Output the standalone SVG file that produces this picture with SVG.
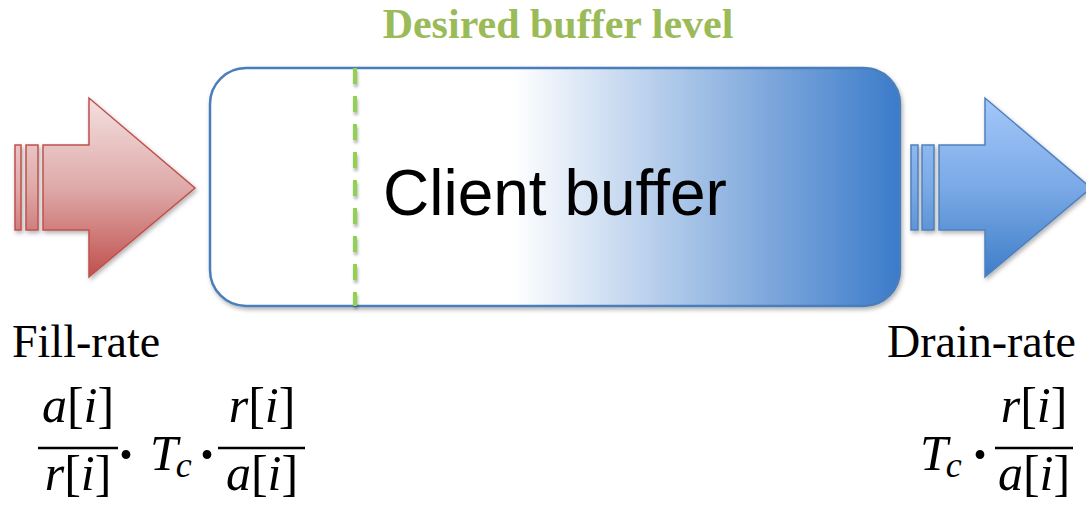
<svg xmlns="http://www.w3.org/2000/svg" width="1086" height="506" viewBox="0 0 1086 506">
  <style>
    .label { font-family: "Liberation Serif", "Times New Roman", serif; font-size: 46px; fill: #000; }
    .math { font-family: "Liberation Serif", "Times New Roman", serif; font-size: 50px; fill: #000; }
    .math .v { font-style: italic; }
    .dot { font-family: "Liberation Serif", "Times New Roman", serif; font-size: 54px; font-weight: bold; fill: #000; }
    .sub { font-family: "Liberation Serif", "Times New Roman", serif; font-size: 36px; font-style: italic; }
    .bar { stroke: #000; stroke-width: 2.5; }
    .title { font-family: "Liberation Serif", "Times New Roman", serif; font-size: 42px; font-weight: bold; fill: #9bbb59; }
    .boxtext { font-family: "Liberation Sans", Arial, sans-serif; font-size: 64px; fill: #000; }
  </style>
  <defs>
    <linearGradient id="bufferFill" x1="210" y1="0" x2="900" y2="0" gradientUnits="userSpaceOnUse">
      <stop offset="0" stop-color="#ffffff"/>
      <stop offset="0.44" stop-color="#ffffff"/>
      <stop offset="1" stop-color="#3b7bca"/>
    </linearGradient>
    <linearGradient id="redFill" x1="0" y1="98" x2="0" y2="277" gradientUnits="userSpaceOnUse">
      <stop offset="0" stop-color="#f4e0e0"/>
      <stop offset="0.5" stop-color="#deaaa9"/>
      <stop offset="1" stop-color="#c0504d"/>
    </linearGradient>
    <linearGradient id="blueFill" x1="0" y1="98" x2="0" y2="277" gradientUnits="userSpaceOnUse">
      <stop offset="0" stop-color="#a3c8fa"/>
      <stop offset="0.5" stop-color="#7aa9e6"/>
      <stop offset="1" stop-color="#3f7ec8"/>
    </linearGradient>
    <filter id="shadow" x="-10%" y="-10%" width="125%" height="130%">
      <feDropShadow dx="1.5" dy="2.5" stdDeviation="2" flood-color="#000" flood-opacity="0.3"/>
    </filter>
    <filter id="lineShadow" filterUnits="userSpaceOnUse" x="340" y="60" width="30" height="260">
      <feDropShadow dx="1" dy="3" stdDeviation="1.5" flood-color="#000" flood-opacity="0.3"/>
    </filter>
  </defs>

  <!-- incoming data -->
  <g id="fill-arrow" filter="url(#shadow)" fill="url(#redFill)" stroke="#c0504d" stroke-width="1.5">
    <rect x="15" y="145" width="6" height="85"/>
    <rect x="26" y="145" width="12" height="85"/>
    <polygon points="43,145 89,145 89,98 195,188 89,277 89,230 43,230"/>
  </g>

  <!-- buffer -->
  <g id="client-buffer">
    <rect x="210" y="68" width="690" height="238" rx="36" ry="36" fill="url(#bufferFill)" stroke="#4a7ebb" stroke-width="2.5" filter="url(#shadow)"/>
    <text class="boxtext" x="383" y="215">Client buffer</text>
  </g>

  <!-- target level marker -->
  <g id="desired-level">
    <line x1="355" y1="68" x2="355" y2="306" stroke="#92d050" stroke-width="4" stroke-dasharray="16 12" filter="url(#lineShadow)"/>
    <text class="title" x="558" y="38" text-anchor="middle">Desired buffer level</text>
  </g>

  <!-- outgoing data -->
  <g id="drain-arrow" filter="url(#shadow)" fill="url(#blueFill)" stroke="#4f81bd" stroke-width="1.5">
    <rect x="911" y="145" width="7" height="85"/>
    <rect x="922" y="145" width="12" height="85"/>
    <polygon points="939,145 985,145 985,98 1091,188 985,277 985,230 939,230"/>
  </g>

  <!-- fill-rate label and formula -->
  <g id="fill-rate">
    <text class="label" x="12" y="357">Fill-rate</text>
    <text class="math" x="78" y="422" text-anchor="middle"><tspan class="v">a</tspan>[<tspan class="v">i</tspan>]</text>
    <line class="bar" x1="38" y1="448" x2="118" y2="448"/>
    <text class="math" x="78" y="490" text-anchor="middle"><tspan class="v">r</tspan>[<tspan class="v">i</tspan>]</text>
    <text class="dot" x="126" y="473" text-anchor="middle">·</text>
    <text class="math" x="150" y="470"><tspan class="v">T</tspan><tspan class="sub" dx="-2" dy="7">c</tspan></text>
    <text class="dot" x="207" y="473" text-anchor="middle">·</text>
    <text class="math" x="262" y="422" text-anchor="middle"><tspan class="v">r</tspan>[<tspan class="v">i</tspan>]</text>
    <line class="bar" x1="218" y1="448" x2="305" y2="448"/>
    <text class="math" x="262" y="490" text-anchor="middle"><tspan class="v">a</tspan>[<tspan class="v">i</tspan>]</text>
  </g>

  <!-- drain-rate label and formula -->
  <g id="drain-rate">
    <text class="label" x="887" y="357">Drain-rate</text>
    <text class="math" x="920" y="470"><tspan class="v">T</tspan><tspan class="sub" dx="-2" dy="7">c</tspan></text>
    <text class="dot" x="980" y="473" text-anchor="middle">·</text>
    <text class="math" x="1034" y="422" text-anchor="middle"><tspan class="v">r</tspan>[<tspan class="v">i</tspan>]</text>
    <line class="bar" x1="995" y1="448" x2="1073" y2="448"/>
    <text class="math" x="1034" y="490" text-anchor="middle"><tspan class="v">a</tspan>[<tspan class="v">i</tspan>]</text>
  </g>
</svg>
